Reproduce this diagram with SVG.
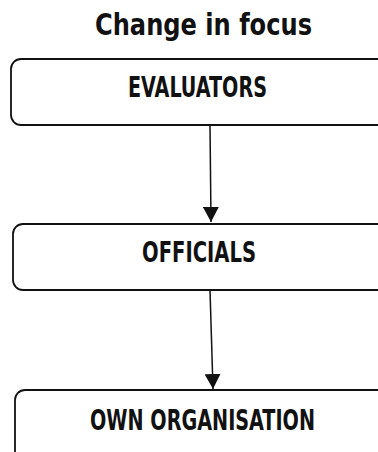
<svg xmlns="http://www.w3.org/2000/svg" width="378" height="452" viewBox="0 0 378 452">
<style>
.box{fill:#fff;stroke:#111;stroke-width:1.8}
.lbl{font-family:"DejaVu Sans Condensed","DejaVu Sans",sans-serif;font-stretch:condensed;font-weight:bold;font-size:27.5px;fill:#111;text-anchor:middle}
.title{font-family:"DejaVu Sans Condensed","DejaVu Sans",sans-serif;font-stretch:condensed;font-weight:bold;font-size:30px;fill:#111;text-anchor:middle}
.conn{stroke:#111;stroke-width:1.5;fill:none}
</style>
<defs>
<marker id="ah" markerWidth="16" markerHeight="16" refX="15" refY="8" orient="auto" markerUnits="userSpaceOnUse">
<path d="M0,0 L15,8 L0,16 Z" fill="#111"/>
</marker>
</defs>
<rect width="378" height="452" fill="#fff"/>
<text class="title" x="203.5" y="35" textLength="217" lengthAdjust="spacingAndGlyphs">Change in focus</text>
<g id="connectors">
<line class="conn" x1="210" y1="125" x2="211" y2="222" marker-end="url(#ah)"/>
<line class="conn" x1="210" y1="290" x2="213" y2="389" marker-end="url(#ah)"/>
</g>
<g id="evaluators">
<rect class="box" x="11" y="59" width="390" height="66" rx="10"/>
<text class="lbl" x="197.5" y="97" textLength="139" lengthAdjust="spacingAndGlyphs">EVALUATORS</text>
</g>
<g id="officials">
<rect class="box" x="13" y="224" width="390" height="66" rx="10"/>
<text class="lbl" x="199" y="262" textLength="114" lengthAdjust="spacingAndGlyphs">OFFICIALS</text>
</g>
<g id="own-organisation">
<rect class="box" x="15" y="390" width="390" height="80" rx="10"/>
<text class="lbl" x="202.5" y="430" textLength="225" lengthAdjust="spacingAndGlyphs">OWN ORGANISATION</text>
</g>
</svg>
